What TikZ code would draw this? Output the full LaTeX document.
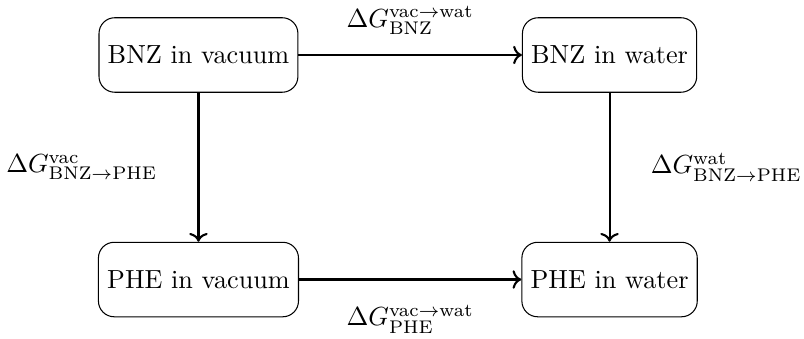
\documentclass[tikz,border=0pt]{standalone}
\usepackage{amsmath}
\usepackage{amssymb}
\usepackage{tikz}
\usetikzlibrary{arrows.meta,positioning}

\begin{document}
\begin{tikzpicture}[
  state/.style={draw, rounded corners=6pt, minimum height=1cm, minimum width=2.3cm},
  path/.style={->, thick}
]
\useasboundingbox (-2.664,0.738) rectangle (8.128,-3.799);
% Thermodynamic cycle states
\node[state] (bnzvac) at (0,0) {BNZ in vacuum};
\node[state, right=3cm of bnzvac] (bnzwat) {BNZ in water};
\node[state, below=2cm of bnzvac] (phevac) {PHE in vacuum};
\node[state, below=2cm of bnzwat] (phewat) {PHE in water};
% Solvation legs
\draw[path] (bnzvac) -- node[above=4pt] {$\Delta G^{\text{vac}\rightarrow\text{wat}}_{\text{BNZ}}$} (bnzwat);
\draw[path] (phevac) -- node[below=6pt] {$\Delta G^{\text{vac}\rightarrow\text{wat}}_{\text{PHE}}$} (phewat);
% Alchemical legs
\draw[path] (bnzvac) -- node[left=12pt] {$\Delta G^{\text{vac}}_{\text{BNZ}\rightarrow\text{PHE}}$} (phevac);
\draw[path] (bnzwat) -- node[right=12pt] {$\Delta G^{\text{wat}}_{\text{BNZ}\rightarrow\text{PHE}}$} (phewat);
\end{tikzpicture}
\end{document}
